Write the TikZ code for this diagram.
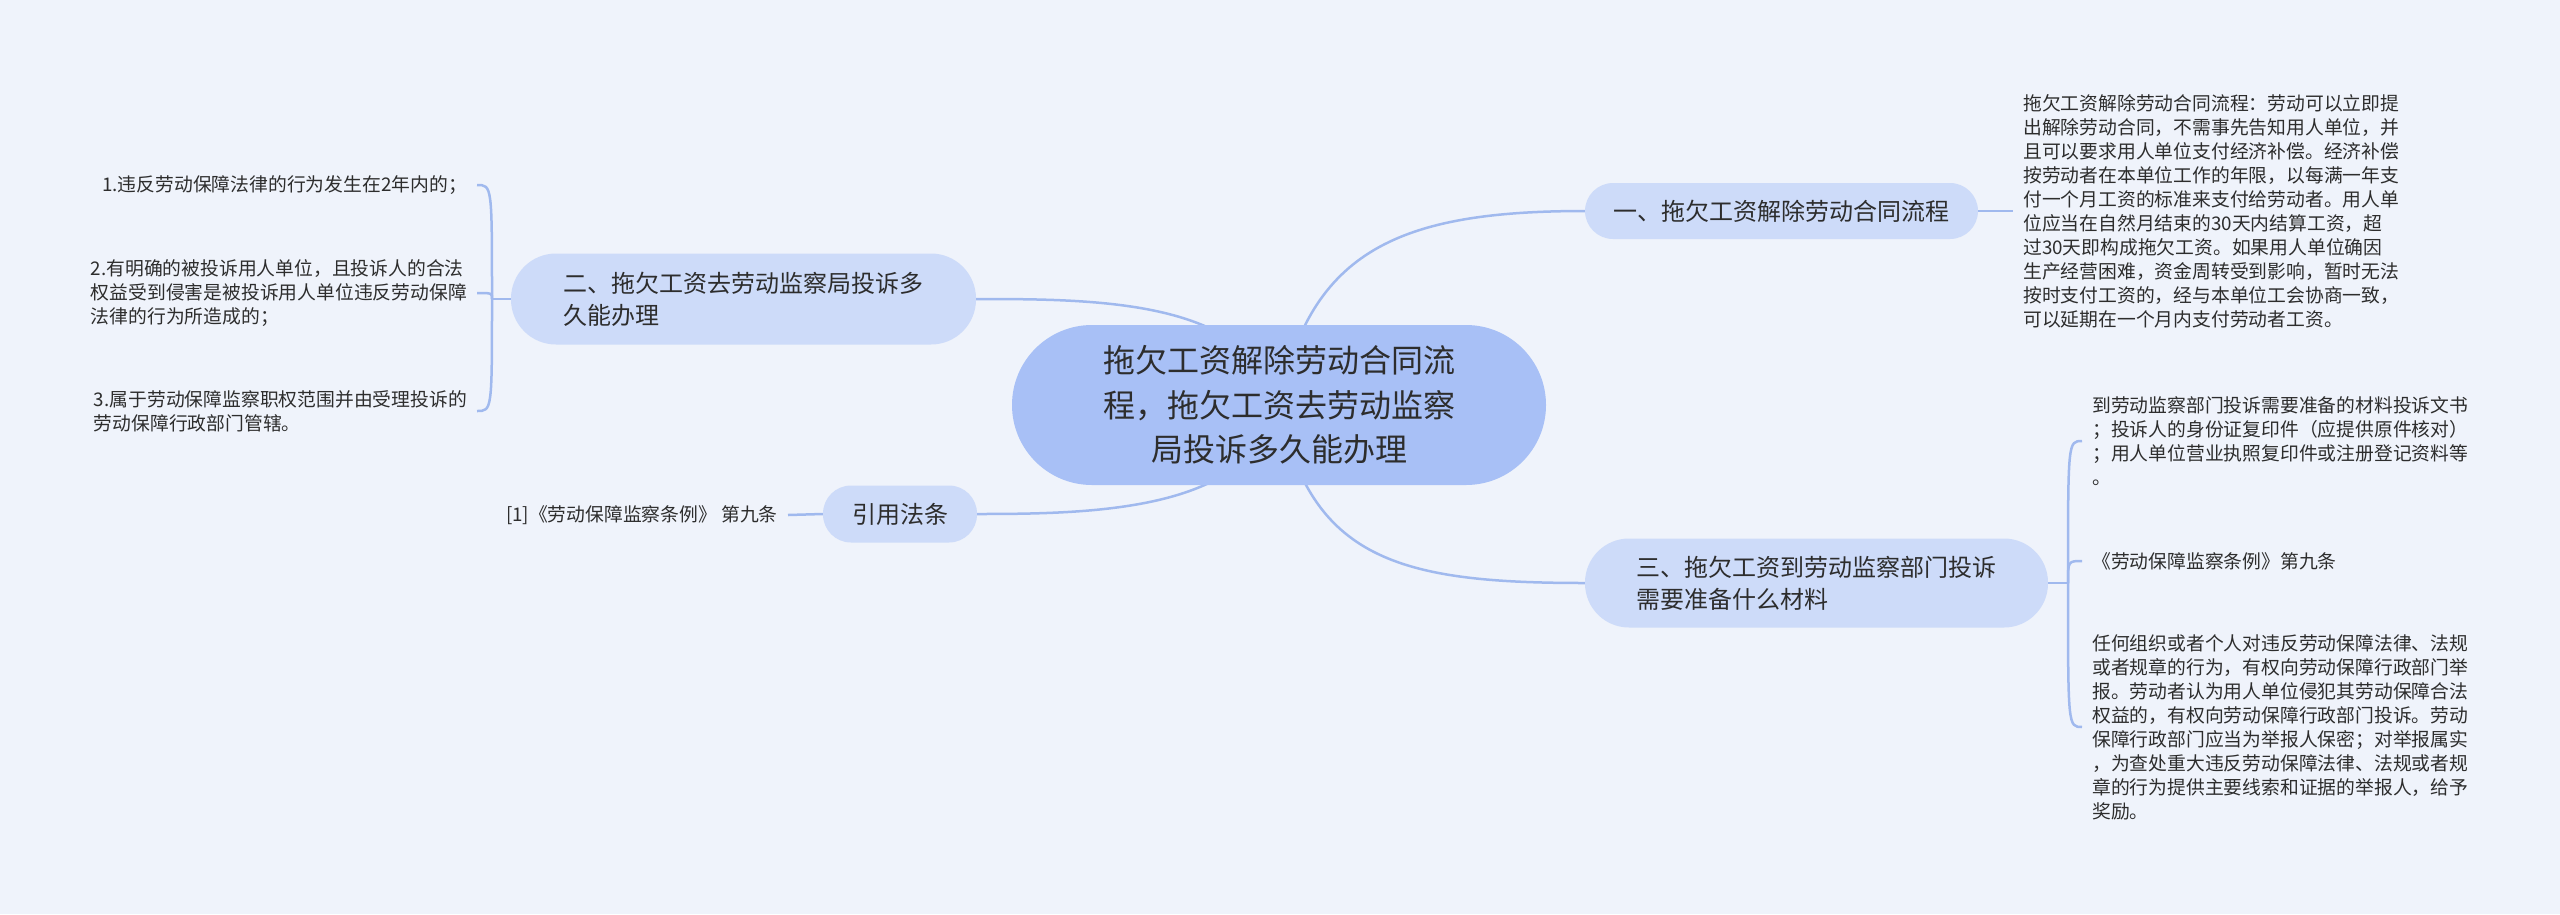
\documentclass[tikz,border=0pt]{standalone}
\usepackage{fontspec}
\setmainfont{Noto Sans CJK SC}
\definecolor{bg}{RGB}{239,243,251}
\definecolor{rootfill}{RGB}{168,192,246}
\definecolor{subfill}{RGB}{205,219,249}
\definecolor{linkc}{RGB}{160,185,238}
\definecolor{txt}{RGB}{45,45,45}
\tikzset{
  rootbox/.style={fill=rootfill, rounded corners=80pt, minimum width=534pt, minimum height=160pt, inner sep=0pt, align=center, text=txt, font=\fontsize{32}{44.5}\selectfont},
  subbox/.style={fill=subfill, inner sep=0pt, align=left, text=txt, font=\fontsize{24}{32}\selectfont},
  leaf/.style={inner xsep=10pt, inner ysep=0pt, align=left, text=txt, font=\fontsize{18.8}{24}\selectfont},
  link/.style={draw=linkc, line width=2.5pt}
}
\begin{document}
\begin{tikzpicture}[x=1pt,y=-1pt]
\fill[bg] (0,0) rectangle (2560,914);
\useasboundingbox (0,0) rectangle (2560,914);

% second-level nodes
\coordinate (rc) at (1279,405);
\node[subbox, rounded corners=28pt, minimum width=393pt, minimum height=56pt] (n1) at (1781.5,211) {一、拖欠工资解除劳动合同流程};
\node[subbox, rounded corners=45pt, minimum width=465pt, minimum height=91pt] (n2) at (743.5,299) {二、拖欠工资去劳动监察局投诉多\\久能办理};
\node[subbox, rounded corners=44pt, minimum width=463pt, minimum height=89pt] (n3) at (1816.5,583) {三、拖欠工资到劳动监察部门投诉\\需要准备什么材料};
\node[subbox, rounded corners=28pt, minimum width=154pt, minimum height=57pt] (n4) at (900,514) {引用法条};

% connectors from root (root drawn on top)
\draw[link] (rc) .. controls (1310,250) and (1400,211) .. (n1.west);
\draw[link] (rc) .. controls (1310,560) and (1400,583) .. (n3.west);
\draw[link] (rc) .. controls (1250,300) and (1100,299) .. (n2.east);
\draw[link] (rc) .. controls (1250,510) and (1100,514) .. (n4.east);

\node[rootbox] (root) at (1279,405) {拖欠工资解除劳动合同流\\程，拖欠工资去劳动监察\\局投诉多久能办理};

% branch one
\node[leaf, anchor=west] (r1) at (2013,211) {拖欠工资解除劳动合同流程：劳动可以立即提\\出解除劳动合同，不需事先告知用人单位，并\\且可以要求用人单位支付经济补偿。经济补偿\\按劳动者在本单位工作的年限，以每满一年支\\付一个月工资的标准来支付给劳动者。用人单\\位应当在自然月结束的30天内结算工资，超\\过30天即构成拖欠工资。如果用人单位确因\\生产经营困难，资金周转受到影响，暂时无法\\按时支付工资的，经与本单位工会协商一致，\\可以延期在一个月内支付劳动者工资。};
\draw[link] (n1.east) -- (r1.west);

% branch two
\coordinate (J2) at (492,299);
\node[leaf, anchor=east] (l1) at (477,185) {1.违反劳动保障法律的行为发生在2年内的；};
\node[leaf, anchor=east] (l2) at (477,293) {2.有明确的被投诉用人单位，且投诉人的合法\\权益受到侵害是被投诉用人单位违反劳动保障\\法律的行为所造成的；};
\node[leaf, anchor=east] (l3) at (477,411) {3.属于劳动保障监察职权范围并由受理投诉的\\劳动保障行政部门管辖。};
\draw[link] (n2.west) -- (J2);
\draw[link] (J2) .. controls (J2 |- l1.east) and (J2 |- l1.east) .. (l1.east);
\draw[link] (J2) .. controls (J2 |- l2.east) and (J2 |- l2.east) .. (l2.east);
\draw[link] (J2) .. controls (J2 |- l3.east) and (J2 |- l3.east) .. (l3.east);

% branch three
\coordinate (J3) at (2068,583);
\node[leaf, anchor=west] (t1) at (2082,441) {到劳动监察部门投诉需要准备的材料投诉文书\\；投诉人的身份证复印件（应提供原件核对）\\；用人单位营业执照复印件或注册登记资料等\\。};
\node[leaf, anchor=west] (t2) at (2082,561) {《劳动保障监察条例》第九条};
\node[leaf, anchor=west] (t3) at (2082,727) {任何组织或者个人对违反劳动保障法律、法规\\或者规章的行为，有权向劳动保障行政部门举\\报。劳动者认为用人单位侵犯其劳动保障合法\\权益的，有权向劳动保障行政部门投诉。劳动\\保障行政部门应当为举报人保密；对举报属实\\，为查处重大违反劳动保障法律、法规或者规\\章的行为提供主要线索和证据的举报人，给予\\奖励。};
\draw[link] (n3.east) -- (J3);
\draw[link] (J3) .. controls (J3 |- t1.west) and (J3 |- t1.west) .. (t1.west);
\draw[link] (J3) .. controls (J3 |- t2.west) and (J3 |- t2.west) .. (t2.west);
\draw[link] (J3) .. controls (J3 |- t3.west) and (J3 |- t3.west) .. (t3.west);

% reference
\node[leaf, anchor=east] (ref) at (788,515) {[1]《劳动保障监察条例》 第九条};
\draw[link] (ref.east) -- (n4.west);
\end{tikzpicture}
\end{document}
